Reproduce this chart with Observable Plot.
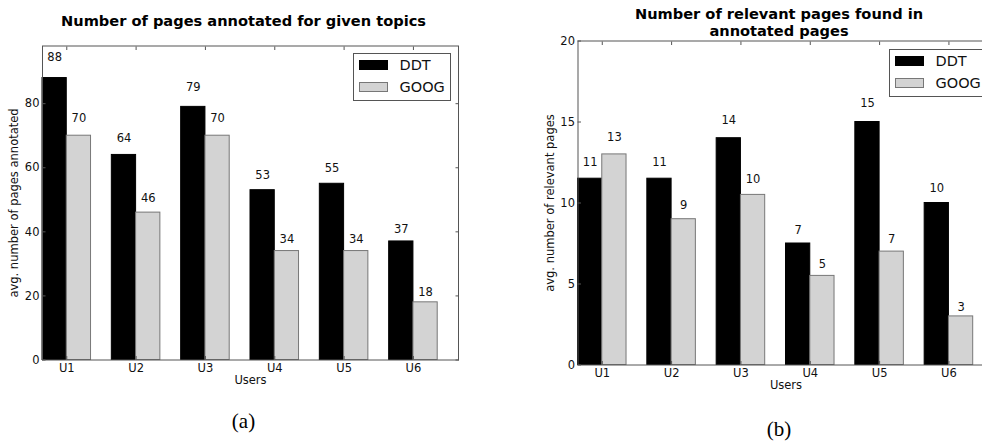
<!DOCTYPE html>
<html>
<head>
<meta charset="utf-8">
<script src="https://cdn.jsdelivr.net/npm/d3@7"></script>
<script src="https://cdn.jsdelivr.net/npm/@observablehq/plot@0.6"></script>
<style>
  html, body { margin: 0; padding: 0; background: #fff; }
  #wrap { position: relative; width: 982px; height: 443px; overflow: hidden; font-family: "DejaVu Sans", sans-serif; }
  .panel { position: absolute; top: 0; }
  .legend { position: absolute; border: 1px solid #555; background: #fff; box-sizing: border-box; }
  .legend .row { position: absolute; left: 0; right: 0; height: 12px; }
  .legend .sw { position: absolute; left: 5px; width: 29px; height: 10px; box-sizing: border-box; }
  .legend .lab { position: absolute; left: 46px; font-size: 14.5px; line-height: 16px; top: -3px; color: #111; white-space: nowrap; }
</style>
</head>
<body>
<div id="wrap"></div>
<script>
// ---- data ----
const users = ["U1", "U2", "U3", "U4", "U5", "U6"];
const seriesNames = ["DDT", "GOOG"];
const annotatedDDT = [88, 64, 79, 53, 55, 37];
const annotatedGOOG = [70, 46, 70, 34, 34, 18];
const relevantDDT = [11.5, 11.5, 14, 7.5, 15, 10];
const relevantGOOG = [13, 9, 10.5, 5.5, 7, 3];
const annotatedTicks = [0, 20, 40, 60, 80];
const relevantTicks = [0, 5, 10, 15, 20];
const titleA = "Number of pages annotated for given topics";
const titleB = "Number of relevant pages found in\nannotated pages";
const yLabelA = "avg. number of pages annotated";
const yLabelB = "avg. number of relevant pages";
const xLabel = "Users";

const BAR_W = 0.35;
const colors = {DDT: "#000000", GOOG: "#d3d3d3"};
const edges = {DDT: "#000000", GOOG: "#777777"};

function rows(ddt, goog) {
  return users.flatMap((u, i) => [
    {u, i, s: "DDT", v: ddt[i]},
    {u, i, s: "GOOG", v: goog[i]}
  ]);
}

function panel({data, yMax, yTicks, title, titleDy, titleLineHeight, yLabel, caption, captionDy, width, height, margins}) {
  const x1 = d => d.i + (d.s === "GOOG" ? BAR_W : 0);
  const x2 = d => x1(d) + BAR_W;
  const tickPos = users.map((u, i) => i + BAR_W);
  const fmtU = v => users[Math.round(v - BAR_W)];
  const blank = () => "";
  return Plot.plot({
    width, height,
    ...margins,
    style: {fontFamily: "DejaVu Sans", fontSize: "11.5px", color: "#111", background: "transparent", overflow: "visible"},
    x: {domain: [0, users.length], axis: null},
    y: {domain: [0, yMax], axis: null},
    marks: [
      Plot.rectY(data, {x1, x2, y: "v", fill: d => colors[d.s], stroke: d => edges[d.s], strokeWidth: 1}),
      Plot.text(data, {
        x: d => x1(d) + BAR_W / 2, y: d => d.v * 1.05, dy: -3,
        text: d => String(Math.trunc(d.v)), lineAnchor: "bottom", fontSize: 11.5, fill: "#111"
      }),
      Plot.frame({stroke: "#555", strokeWidth: 1}),
      Plot.axisY({ticks: yTicks, anchor: "left", tickSize: 0, tickPadding: 3, label: null, fontSize: 11.5}),
      Plot.axisY({ticks: yTicks, anchor: "left", tickSize: -3.5, tickFormat: blank, label: null, stroke: "#555"}),
      Plot.axisY({ticks: yTicks, anchor: "right", tickSize: -3.5, tickFormat: blank, label: null, stroke: "#555"}),
      Plot.axisX({ticks: tickPos, anchor: "bottom", tickFormat: fmtU, tickSize: 0, tickPadding: 4, label: null, fontSize: 11.5}),
      Plot.axisX({ticks: tickPos, anchor: "bottom", tickSize: -3.5, tickFormat: blank, label: null, stroke: "#555"}),
      Plot.axisX({ticks: tickPos, anchor: "top", tickSize: -3.5, tickFormat: blank, label: null, stroke: "#555"}),
      Plot.text([yLabel], {frameAnchor: "left", textAnchor: "middle", rotate: -90, dx: -28, fontSize: 11.5, fill: "#111"}),
      Plot.text([xLabel], {frameAnchor: "bottom", dy: 23.5, fontSize: 11.5, fill: "#111"}),
      Plot.text([title], {frameAnchor: "top", dx: -7, dy: titleDy, fontSize: 14.6, fontWeight: "bold", lineHeight: titleLineHeight, fill: "#000"}),
      Plot.text([caption], {frameAnchor: "bottom", dx: -7, dy: captionDy, fontSize: 21, fontFamily: "Liberation Serif", fill: "#000"})
    ]
  });
}

function legend(left, top) {
  const div = document.createElement("div");
  div.className = "legend";
  Object.assign(div.style, {left: left + "px", top: top + "px", width: "98px", height: "48px"});
  seriesNames.forEach((s, k) => {
    const row = document.createElement("div");
    row.className = "row";
    row.style.top = (k === 0 ? 6 : 28) + "px";
    const sw = document.createElement("div");
    sw.className = "sw";
    sw.style.background = colors[s];
    sw.style.border = "1px solid " + edges[s];
    const lab = document.createElement("div");
    lab.className = "lab";
    lab.textContent = s;
    row.appendChild(sw); row.appendChild(lab);
    div.appendChild(row);
  });
  return div;
}

const wrap = document.getElementById("wrap");

const a = panel({
  data: rows(annotatedDDT, annotatedGOOG), yMax: 98, yTicks: annotatedTicks,
  title: titleA, titleDy: -30, titleLineHeight: 1, yLabel: yLabelA,
  caption: "(a)", captionDy: 68,
  width: 490, height: 443,
  margins: {marginLeft: 42, marginRight: 32, marginTop: 45.5, marginBottom: 83.5}
});
a.classList.add("panel");
a.style.left = "0px";
wrap.appendChild(a);

const b = panel({
  data: rows(relevantDDT, relevantGOOG), yMax: 20, yTicks: relevantTicks,
  title: titleB, titleDy: -33.5, titleLineHeight: 1.15, yLabel: yLabelB,
  caption: "(b)", captionDy: 71,
  width: 520, height: 443,
  margins: {marginLeft: 87.5, marginRight: 16.5, marginTop: 40.5, marginBottom: 78.5}
});
b.classList.add("panel");
b.style.left = "490px";
wrap.appendChild(b);

wrap.appendChild(legend(352.5, 52.5));
wrap.appendChild(legend(888.5, 48.5));
</script>
</body>
</html>
